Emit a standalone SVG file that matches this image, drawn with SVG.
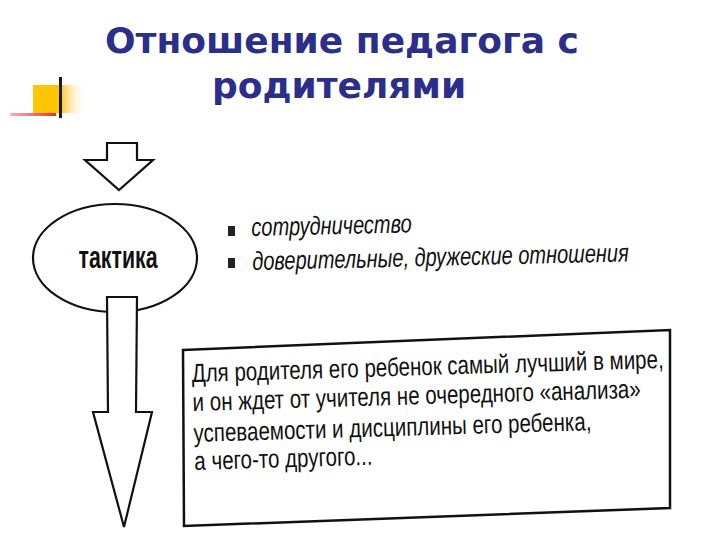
<svg xmlns="http://www.w3.org/2000/svg" width="720" height="540" viewBox="0 0 720 540">
<defs>
<linearGradient id="og" x1="0" y1="0" x2="1" y2="0"><stop offset="0" stop-color="#ffc93a"/><stop offset="1" stop-color="#fff6d8" stop-opacity="0"/></linearGradient>
<linearGradient id="rg" x1="0" y1="0" x2="1" y2="0"><stop offset="0" stop-color="#f8b0b8"/><stop offset="1" stop-color="#e8303a"/></linearGradient>
<style>
.title{font-family:"DejaVu Sans","Verdana",sans-serif;font-weight:bold;font-size:36px;fill:#2b2e8a;text-anchor:middle}
.sh{fill:#fff;stroke:#111;stroke-width:2.2;stroke-linejoin:miter}
.bl{font-family:"Liberation Sans",Arial,sans-serif;font-style:italic;font-size:26px;fill:#111}
.bx{font-family:"Liberation Sans",Arial,sans-serif;font-size:26px;fill:#111}
.tk{font-family:"Liberation Sans",Arial,sans-serif;font-weight:bold;font-size:31px;fill:#111;text-anchor:middle}
</style>
</defs>
<rect width="720" height="540" fill="#fff"/>
<g id="logo">
<rect x="62" y="85" width="22" height="28" fill="url(#og)"/>
<rect x="33" y="85" width="28" height="28" fill="#fcc600"/>
<rect x="10" y="113" width="46" height="3" fill="url(#rg)"/>
<rect x="59" y="77" width="3" height="41" fill="#1a1a1a"/>
</g>
<g id="title">
<text class="title" x="342" y="53">Отношение педагога с</text>
<text class="title" x="339" y="98">родителями</text>
</g>
<g id="connectors">
<polygon id="arrow-top" class="sh" points="107,143 137,143 137,160 153,160 119,190 85,160 107,160"/>
</g>
<g id="node-taktika">
<ellipse class="sh" cx="115" cy="258" rx="82" ry="54"/>
<text class="tk" x="118" y="268" textLength="79" lengthAdjust="spacingAndGlyphs">тактика</text>
</g>
<g id="arrow-down">
<polygon class="sh" points="107,297 137,297 136,412 152,412 124,527 93,412 108,412"/>
</g>
<g id="bullets">
<rect x="228" y="226" width="7" height="10" fill="#222"/>
<rect x="228" y="258" width="7" height="10" fill="#222"/>
<g transform="rotate(-1.3 252 253) translate(252 0) scale(0.77 1) translate(-252 0)">
<text class="bl" x="252" y="236">сотрудничество</text>
<text class="bl" x="252" y="270">доверительные, дружеские отношения</text>
</g>
</g>
<g id="node-box">
<polygon points="183,350 670,330 670,508 184,526" fill="#fff" stroke="#111" stroke-width="2.5"/>
<g transform="rotate(-1.7 192 382) translate(192 0) scale(0.79 1) translate(-192 0)">
<text class="bx" x="192" y="382">Для родителя его ребенок  самый лучший в мире,</text>
<text class="bx" x="192" y="411">и он ждет от учителя не очередного «анализа»</text>
<text class="bx" x="192" y="442">успеваемости и дисциплины его ребенка,</text>
<text class="bx" x="192" y="470">а чего-то другого...</text>
</g>
</g>
</svg>
